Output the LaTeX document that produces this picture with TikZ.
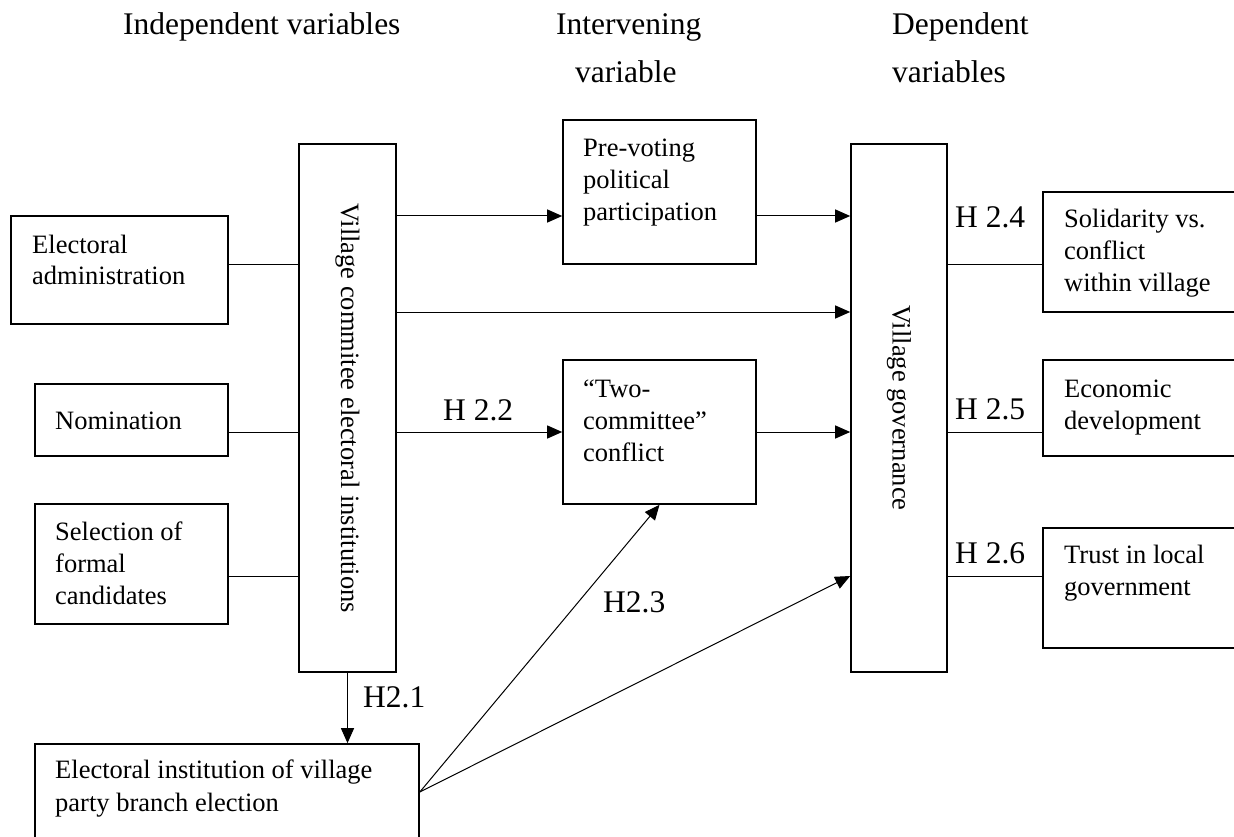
\documentclass[tikz,border=0pt]{standalone}
\usepackage{fontspec}
\setmainfont{Liberation Serif}
\usetikzlibrary{arrows.meta}
% stacked left-aligned lines whose baseline is the first line's baseline
\newcommand{\boxlines}[1]{\begin{tabular}[t]{@{}l@{}}#1\end{tabular}}

\begin{document}
\begin{tikzpicture}[x=1pt,y=-1pt,
  box/.style={draw, line width=1.6pt, rectangle, inner sep=0pt},
  txt/.style={anchor=base west, inner sep=0pt, font=\fontsize{26.5}{32}\selectfont},
  hyp/.style={anchor=base west, inner sep=0pt, font=\fontsize{31.5}{38}\selectfont},
  vtext/.style={inner sep=0pt, rotate=-90, font=\fontsize{26.5}{32}\selectfont},
  link/.style={line width=1pt},
  arr/.style={line width=1pt, -{Triangle[length=15pt,width=13pt]}},
]
\clip (0,0) rectangle (1234,837);

% column headings
\node[hyp] (hIndep) at (123,35) {Independent variables};
\node[hyp] (hInter1) at (556,35) {Intervening};
\node[hyp] (hInter2) at (575,83) {variable};
\node[hyp] (hDep1) at (892,35) {Dependent};
\node[hyp] (hDep2) at (892,83) {variables};

% boxes
\node[box, minimum width=217pt, minimum height=108pt] (ea)  at (119.5,270) {};
\node[box, minimum width=193pt, minimum height=72pt]  (nom) at (131.5,420) {};
\node[box, minimum width=193pt, minimum height=120pt] (sel) at (131.5,564) {};
\node[box, minimum width=97pt,  minimum height=528pt] (vc)  at (347.5,408) {};
\node[box, minimum width=384pt, minimum height=116pt] (pb)  at (227,802) {};
\node[box, minimum width=193pt, minimum height=144pt] (pv)  at (659.5,192) {};
\node[box, minimum width=193pt, minimum height=144pt] (tc)  at (659.5,432) {};
\node[box, minimum width=96pt,  minimum height=528pt] (vg)  at (899,408) {};
\node[box, minimum width=207pt, minimum height=120pt] (sol) at (1146.5,252) {};
\node[box, minimum width=207pt, minimum height=96pt]  (eco) at (1146.5,408) {};
\node[box, minimum width=207pt, minimum height=120pt] (tr)  at (1146.5,588) {};

% box texts
\node[txt] (eaT)  at (32,253)   {\boxlines{Electoral\\administration}};
\node[txt] (nomT) at (55,429)   {Nomination};
\node[txt] (selT) at (55,540)   {\boxlines{Selection of\\formal\\candidates}};
\node[txt, font=\fontsize{26.5}{33.5}\selectfont] (pbT) at (55,778)
  {\boxlines{Electoral institution of village\\party branch election}};
\node[txt] (pvT)  at (583,157)  {\boxlines{Pre-voting\\political\\participation}};
\node[txt] (tcT)  at (583,397)  {\boxlines{“Two-\\committee”\\conflict}};
\node[txt] (solT) at (1064,228) {\boxlines{Solidarity vs.\\conflict\\within village}};
\node[txt] (ecoT) at (1064,397) {\boxlines{Economic\\development}};
\node[txt] (trT)  at (1064,563) {\boxlines{Trust in local\\government}};
\node[vtext] (vcT) at (vc.center) {Village commitee electoral institutions};
\node[vtext] (vgT) at (vg.center) {Village governance};

% connector rows
\coordinate (r216) at (0,216);
\coordinate (r264) at (0,264);
\coordinate (r312) at (0,312);
\coordinate (r432) at (0,432);
\coordinate (r576) at (0,576);
\coordinate (r792) at (0,792);

% independent variables feeding the institutions box
\draw[link] (ea.east |- r264) -- (vc.west |- r264);
\draw[link] (nom.east |- r432) -- (vc.west |- r432);
\draw[link] (sel.east |- r576) -- (vc.west |- r576);

% paths towards village governance
\draw[arr] (vc.east |- r216) -- (pv.west |- r216);
\draw[arr] (pv.east |- r216) -- (vg.west |- r216);
\draw[arr] (vc.east |- r312) -- (vg.west |- r312);
\draw[arr] (vc.east |- r432) -- (tc.west |- r432);
\draw[arr] (tc.east |- r432) -- (vg.west |- r432);
\draw[arr] (vc.south) -- (pb.north -| vc.south);
\draw[arr] (pb.east |- r792) -- (tc.south);
\draw[arr] (pb.east |- r792) -- (vg.west |- r576);

% dependent variables
\draw[link] (vg.east |- r264) -- (sol.west |- r264);
\draw[link] (vg.east |- r432) -- (eco.west |- r432);
\draw[link] (vg.east |- r576) -- (tr.west |- r576);

% hypothesis labels
\node[hyp] (h21) at (363,707) {H2.1};
\node[hyp] (h22) at (443,420) {H 2.2};
\node[hyp] (h23) at (603,612) {H2.3};
\node[hyp] (h24) at (955,228) {H 2.4};
\node[hyp] (h25) at (955,419) {H 2.5};
\node[hyp] (h26) at (955,563) {H 2.6};
\end{tikzpicture}
\end{document}
